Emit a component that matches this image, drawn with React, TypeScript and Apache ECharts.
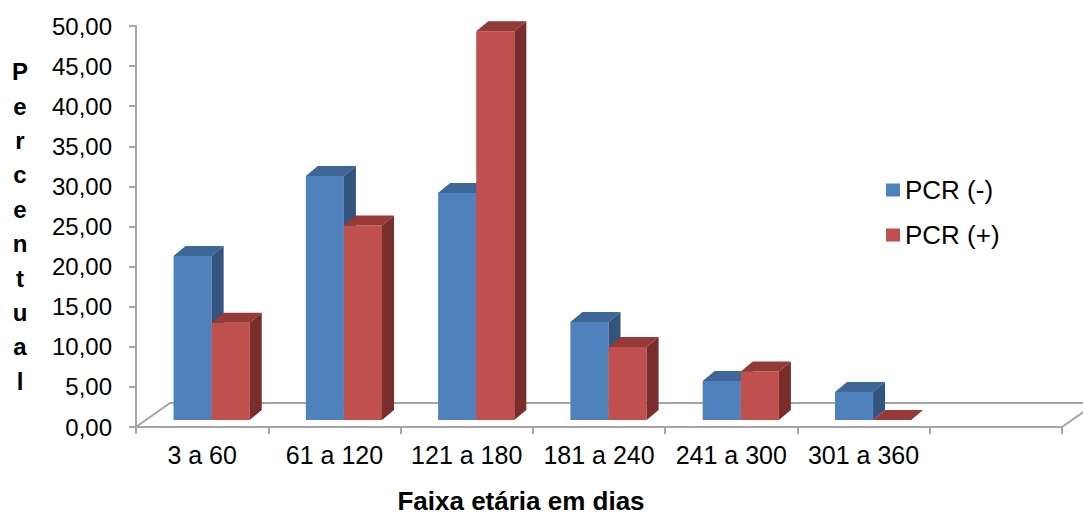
import React, { useEffect, useRef } from "react";
import * as echarts from "echarts";

const categories = ["3 a 60", "61 a 120", "121 a 180", "181 a 240", "241 a 300", "301 a 360", ""];
const seriesNames = ["PCR (-)", "PCR (+)"];
const pcrNeg = [20.45, 30.42, 28.3, 12.22, 4.86, 3.49];
const pcrPos = [12.12, 24.24, 48.48, 9.09, 6.06, 0];
const yMin = 0;
const yMax = 50;
const yInterval = 5;
const yTitleLetters = ["P", "e", "r", "c", "e", "n", "t", "u", "a", "l"];
const xTitle = "Faixa etária em dias";

const FONT = "Liberation Sans, Arial, sans-serif";
const FRONT = ["#4F81BD", "#C0504D"];
const TOP = ["#3E6797", "#953A37"];
const SIDE = ["#33547D", "#7A2E2C"];

const DEPTH_X = 12;
const DEPTH_Y = 10;
const SHIFT_X = 9.5;
const SHIFT_Y = 7;
const FLOOR_DX = 34;
const FLOOR_DY = 24;

function barRender(idx: number) {
  return (params: any, api: any) => {
    const cat = api.value(0);
    const v = api.value(1);
    const base = api.coord([cat, 0]);
    const top = api.coord([cat, v]);
    const slot = api.size([1, 0])[0];
    const w = slot * 0.288;
    const cx = base[0] + SHIFT_X;
    const x0 = idx === 0 ? cx - w : cx;
    const x1 = x0 + w;
    const yb = base[1] - SHIFT_Y;
    const yt = top[1] - SHIFT_Y;
    return {
      type: "group",
      children: [
        {
          type: "rect",
          shape: { x: x0, y: yt, width: w, height: yb - yt },
          style: { fill: FRONT[idx] },
        },
        {
          type: "polygon",
          shape: {
            points: [
              [x0, yt],
              [x0 + DEPTH_X, yt - DEPTH_Y],
              [x1 + DEPTH_X, yt - DEPTH_Y],
              [x1, yt],
            ],
          },
          style: { fill: TOP[idx] },
        },
        {
          type: "polygon",
          shape: {
            points: [
              [x1, yt],
              [x1 + DEPTH_X, yt - DEPTH_Y],
              [x1 + DEPTH_X, yb - DEPTH_Y],
              [x1, yb],
            ],
          },
          style: { fill: SIDE[idx] },
        },
      ],
    };
  };
}

function floorRender(params: any, api: any) {
  const cs = params.coordSys;
  const l = cs.x;
  const r = cs.x + cs.width;
  const b = cs.y + cs.height;
  return {
    type: "polyline",
    shape: {
      points: [
        [l, b],
        [l + FLOOR_DX, b - FLOOR_DY],
        [r + FLOOR_DX, b - FLOOR_DY],
        [r, b],
      ],
    },
    style: { fill: "none", stroke: "#A6A6A6", lineWidth: 2 },
  };
}

export default function App() {
  const ref = useRef<HTMLDivElement>(null);
  useEffect(() => {
    if (!ref.current) return;
    const chart = echarts.init(ref.current, undefined, { renderer: "svg" });
    const toData = (arr: number[]) => arr.map((v, i) => [i, v]);
    chart.setOption({
      animation: false,
      backgroundColor: "#fff",
      textStyle: { fontFamily: FONT },
      grid: { left: 136, right: 21, top: 26, bottom: 89, containLabel: false },
      legend: {
        data: seriesNames,
        orient: "vertical",
        left: 881,
        top: 172,
        itemWidth: 14,
        itemHeight: 13,
        itemGap: 19,
        icon: "rect",
        textStyle: { fontSize: 26, color: "#000", fontFamily: FONT },
      },
      xAxis: {
        type: "category",
        data: categories,
        boundaryGap: true,
        axisLine: { show: true, lineStyle: { color: "#A6A6A6", width: 2 } },
        axisTick: { show: true, length: 7, lineStyle: { color: "#A6A6A6", width: 2 } },
        axisLabel: { fontSize: 25, color: "#000", margin: 15, interval: 0, fontFamily: FONT },
        splitLine: { show: false },
      },
      yAxis: {
        type: "value",
        min: yMin,
        max: yMax,
        interval: yInterval,
        name: yTitleLetters.join("\n"),
        nameLocation: "middle",
        nameRotate: 0,
        nameGap: 116,
        nameTextStyle: {
          fontSize: 24,
          fontWeight: "bold",
          color: "#000",
          lineHeight: 34.4,
          align: "center",
          verticalAlign: "middle",
          padding: [6, 0, 0, 0],
          fontFamily: FONT,
        },
        axisLine: { show: true, lineStyle: { color: "#A6A6A6", width: 2 } },
        axisTick: { show: true, length: 7, lineStyle: { color: "#A6A6A6", width: 2 } },
        axisLabel: {
          fontSize: 24,
          color: "#000",
          margin: 24,
          fontFamily: FONT,
          formatter: (v: number) => v.toFixed(2).replace(".", ","),
        },
        splitLine: { show: false },
      },
      graphic: [
        {
          type: "text",
          x: 521,
          y: 501,
          style: {
            text: xTitle,
            fontSize: 26,
            fontWeight: "bold",
            fill: "#000",
            align: "center",
            verticalAlign: "middle",
            fontFamily: FONT,
          },
        },
      ],
      series: [
        {
          type: "custom",
          name: "floor",
          z: 1,
          silent: true,
          renderItem: floorRender,
          data: [[0, 0]],
          encode: { x: 0, y: 1 },
        },
        {
          type: "custom",
          name: seriesNames[0],
          z: 2,
          itemStyle: { color: FRONT[0] },
          renderItem: barRender(0),
          data: toData(pcrNeg),
          encode: { x: 0, y: 1 },
        },
        {
          type: "custom",
          name: seriesNames[1],
          z: 3,
          itemStyle: { color: FRONT[1] },
          renderItem: barRender(1),
          data: toData(pcrPos),
          encode: { x: 0, y: 1 },
        },
      ],
    });
    return () => chart.dispose();
  }, []);
  return (
    <div
      ref={ref}
      style={{ position: "absolute", left: 0, top: 0, width: 1083, height: 516 }}
    />
  );
}
